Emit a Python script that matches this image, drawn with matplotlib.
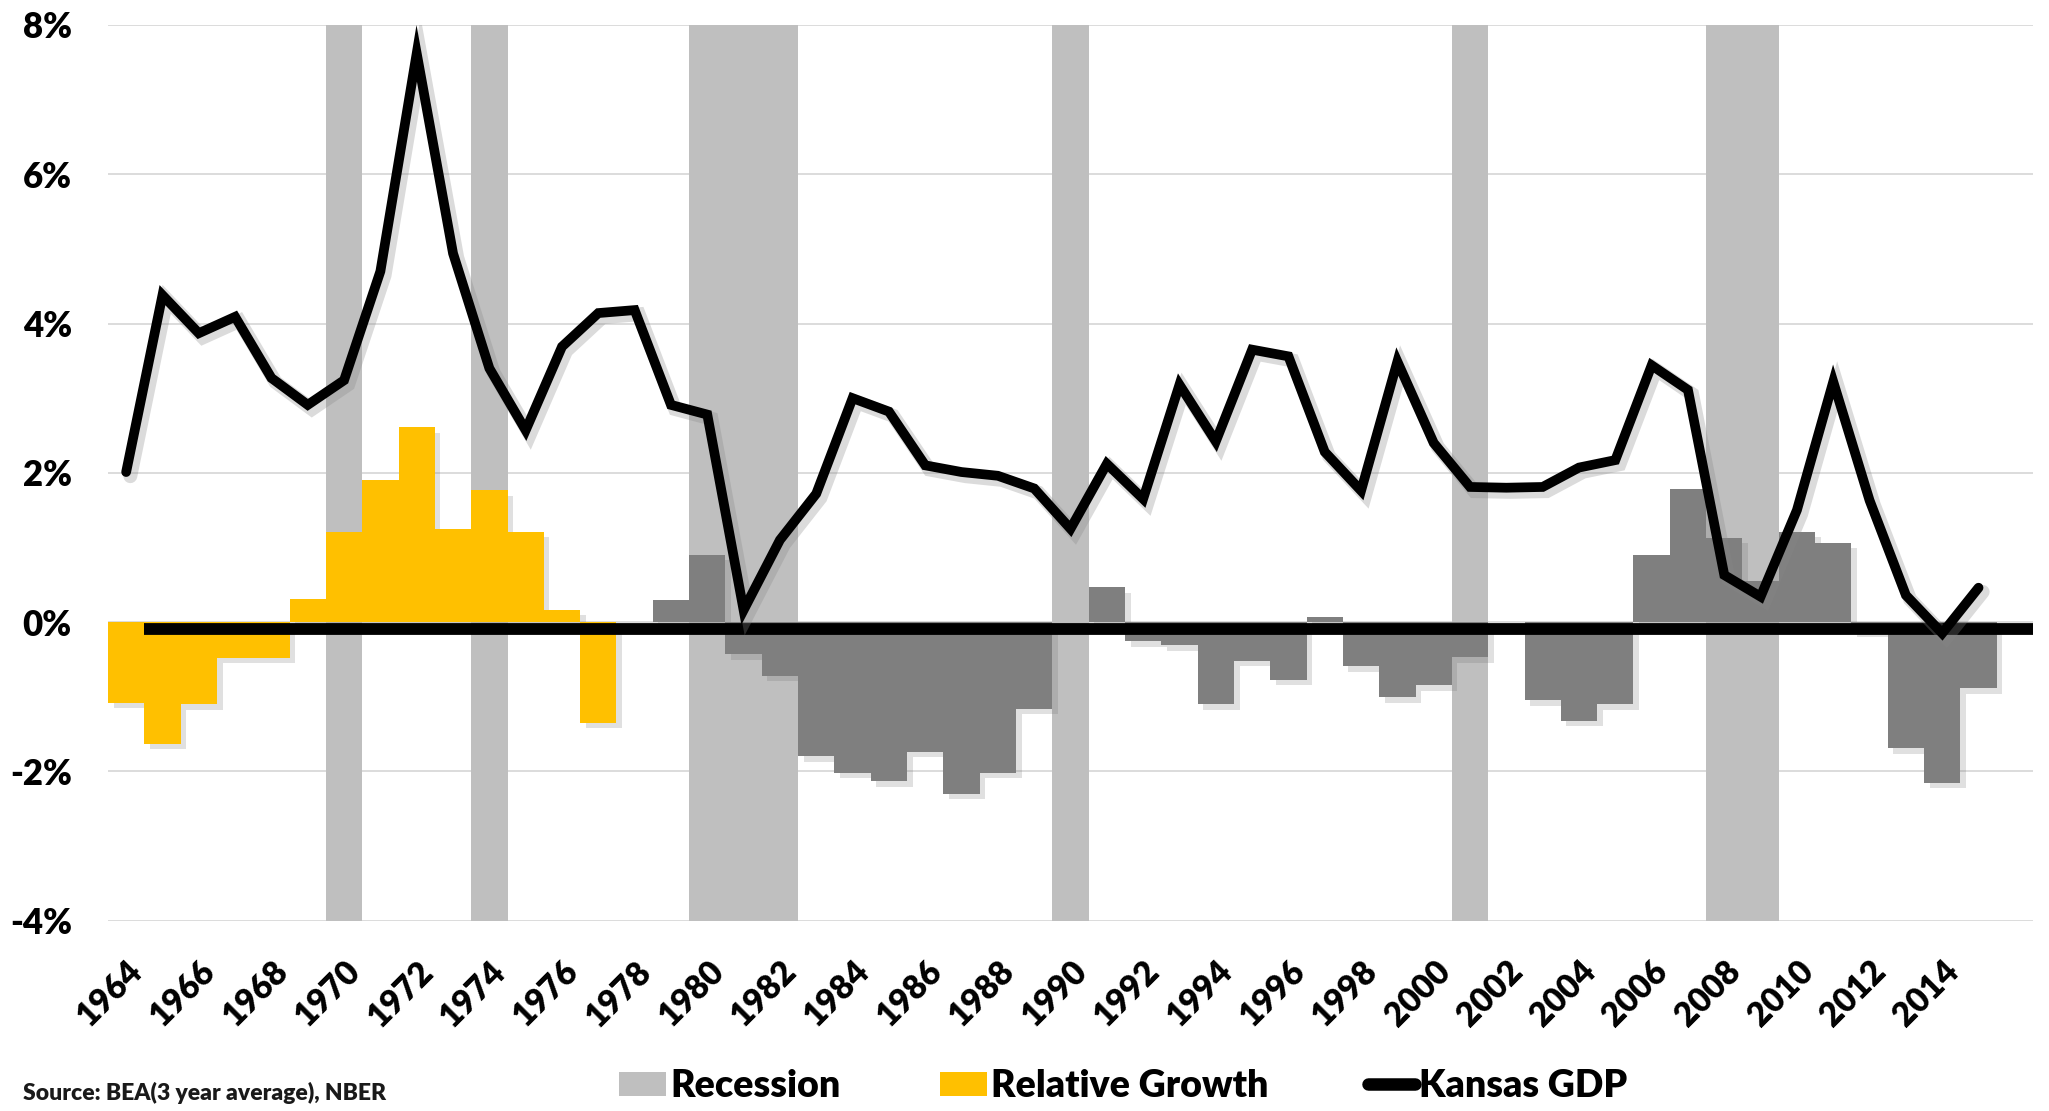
import matplotlib.pyplot as plt
import matplotlib.patheffects as pe
from matplotlib.lines import Line2D
from matplotlib.patches import Patch

plt.rcParams['font.family'] = ['Lato', 'DejaVu Sans']
plt.rcParams['font.weight'] = 'heavy'

# Data (percent)
YEARS = list(range(1964, 2016))
KANSAS_GDP = [
    2.01, 4.38, 3.87, 4.09, 3.27, 2.91, 3.24, 4.70, 7.62, 4.94,
    3.40, 2.57, 3.69, 4.14, 4.18, 2.91, 2.78, 0.16, 1.10, 1.72,
    3.00, 2.82, 2.10, 2.01, 1.96, 1.79, 1.25, 2.12, 1.65, 3.18,
    2.42, 3.65, 3.56, 2.28, 1.76, 3.49, 2.40, 1.81, 1.80, 1.81,
    2.07, 2.17, 3.44, 3.11, 0.63, 0.34, 1.50, 3.22, 1.63, 0.36,
    -0.15, 0.46,
]
RELATIVE_GROWTH = [
    -1.08, -1.63, -1.10, -0.48, -0.48, 0.31, 1.20, 1.90, 2.61, 1.25,
    1.77, 1.21, 0.165, -1.35, 0.0, 0.30, 0.90, -0.43, -0.72, -1.80,
    -2.02, -2.13, -1.74, -2.30, -2.02, -1.16, 0.0, 0.47, -0.26, -0.31,
    -1.10, -0.52, -0.77, 0.07, -0.59, -1.01, -0.85, -0.47, 0.0, -1.05,
    -1.32, -1.10, 0.90, 1.78, 1.13, 0.55, 1.21, 1.06, -0.12, -1.69,
    -2.15, -0.89,
]
RECESSION_YEARS = [1970, 1974, 1980, 1981, 1982, 1990, 2001, 2008, 2009]
LAST_YELLOW_YEAR = 1977
AXIS_LAST_YEAR = 2016
Y_MIN, Y_MAX = -4, 8

YELLOW = "#FFC000"
DARK_GRAY = "#7F7F7F"
BAND_GRAY = "#BFBFBF"

fig = plt.figure(figsize=(20.49, 11.11), dpi=100)
ax = fig.add_axes([0.0527, 0.1714, 0.9395, 0.8061])

# recession bands span the full value range
ax.bar(RECESSION_YEARS, Y_MAX - Y_MIN, bottom=Y_MIN, width=1.0,
       color=BAND_GRAY, linewidth=0, zorder=1)

bar_colors = [YELLOW if y <= LAST_YELLOW_YEAR else DARK_GRAY for y in YEARS]
bar_shadow = [pe.SimplePatchShadow(offset=(4, -4), shadow_rgbFace="#666666", alpha=0.2),
              pe.Normal()]
ax.bar(YEARS, RELATIVE_GROWTH, width=1.0, color=bar_colors, linewidth=0,
       zorder=2, path_effects=bar_shadow)

# heavy baseline just under zero
ax.hlines(-0.09, YEARS[0] + 0.5, AXIS_LAST_YEAR + 0.5, color="black",
          linewidth=8.5, zorder=3)

line_shadow = [pe.SimpleLineShadow(offset=(3, -3), shadow_color="#888888", alpha=0.3,
                                   linewidth=10),
               pe.Normal()]
ax.plot(YEARS, KANSAS_GDP, color="black", linewidth=7, solid_joinstyle="miter",
        solid_capstyle="round", zorder=5, path_effects=line_shadow)

ax.set_xlim(YEARS[0] - 0.5, AXIS_LAST_YEAR + 0.5)
ax.set_ylim(Y_MIN, Y_MAX)
ax.set_yticks(range(Y_MIN, Y_MAX + 1, 2))
ax.set_yticklabels([f"{v}%" for v in range(Y_MIN, Y_MAX + 1, 2)], fontsize=25)
ax.set_xticks(YEARS[::2])
ax.set_xticklabels([str(y) for y in YEARS[::2]], fontsize=24, rotation=45,
                   ha="right", va="top", rotation_mode="anchor")
ax.tick_params(axis="y", length=0, pad=26)
ax.tick_params(axis="x", length=0, pad=25)
ax.grid(axis="y", color="#D9D9D9", linewidth=1.3)
ax.set_axisbelow(True)
for s in ax.spines.values():
    s.set_visible(False)

fig.text(23 / 2049, 1 - 1093 / 1111, "Source: BEA(3 year average), NBER",
         fontsize=16.5, va="center", ha="left", color="#1a1a1a")

handles = [
    Patch(facecolor=BAND_GRAY, edgecolor="none", label="Recession"),
    Patch(facecolor=YELLOW, edgecolor="none", label="Relative Growth"),
    Line2D([], [], color="black", linewidth=9, solid_capstyle="round", label="Kansas GDP"),
]
fig.legend(handles=handles, loc="center", bbox_to_anchor=(1123 / 2049, 1 - 1086 / 1111),
           ncol=3, frameon=False, fontsize=27, handlelength=1.25, handleheight=0.6,
           handletextpad=0.12, columnspacing=2.65)

fig.savefig("out.png", dpi=100)
